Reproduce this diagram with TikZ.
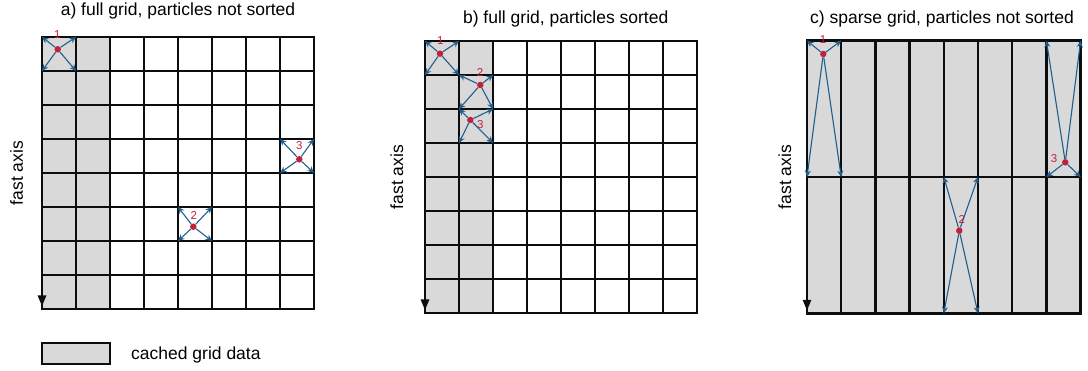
\documentclass[tikz,border=0pt]{standalone}
\usepackage{fontspec}
\setmainfont{Liberation Sans}
\usetikzlibrary{arrows.meta}
\definecolor{cachegray}{HTML}{D9D9D9}
\definecolor{arrblue}{HTML}{1F5F8F}
\definecolor{ptred}{HTML}{C3203A}
\begin{document}
\begin{tikzpicture}[x=1pt,y=-1pt,
  gridline/.style={line width=2.5pt, draw=black!95, line cap=rect},
  move/.style={draw=arrblue, line width=1.1pt, -{Stealth[length=6.5pt,width=6pt]}},
  dotnode/.style={circle, fill=ptred, inner sep=0pt, minimum size=6.5pt},
  plabel/.style={text=ptred, font=\fontsize{11.5}{13}\selectfont, inner sep=0pt},
  title/.style={font=\fontsize{17.5}{20}\selectfont, inner sep=0pt, anchor=base},
  axislabel/.style={font=\fontsize{17.5}{20}\selectfont, rotate=90, anchor=base, inner sep=0pt},
  axisarrow/.style={line width=2.5pt, draw=black!95, -{Triangle[length=11pt,width=8pt]}},
  legendbox/.style={draw=black!95, line width=2.2pt, fill=cachegray, minimum width=68pt, minimum height=20.7pt, inner sep=0pt},
  legendtext/.style={font=\fontsize{17.5}{20}\selectfont, inner sep=0pt, anchor=base west}]
\useasboundingbox (0,0) rectangle (1088,371);

% ---------- titles ----------
\node[title] (ta) at (178,15.5) {a) full grid, particles not sorted};
\node[title] (tb) at (565.7,24) {b) full grid, particles sorted};
\node[title] (tc) at (942,24) {c) sparse grid, particles not sorted};

% ---------- axis labels ----------
\node[axislabel] (fa) at (23,173) {fast axis};
\node[axislabel] (fb) at (403,177) {fast axis};
\node[axislabel] (fc) at (791,177) {fast axis};

% ---------- panel a ----------
\fill[cachegray] (42,37) rectangle (110,309);
\foreach \i in {0,...,8} \draw[gridline] (42+34*\i,37) -- (42+34*\i,309);
\foreach \j in {0,...,8} \draw[gridline] (42,37+34*\j) -- (314,37+34*\j);
\coordinate (atop) at (42,37);
\coordinate (abot) at (42,306.5);
\draw[axisarrow] (atop) -- (abot);

% ---------- panel b ----------
\fill[cachegray] (425,41) rectangle (493,313);
\foreach \i in {0,...,8} \draw[gridline] (425+34*\i,41) -- (425+34*\i,313);
\foreach \j in {0,...,8} \draw[gridline] (425,41+34*\j) -- (697,41+34*\j);
\coordinate (btop) at (425,41);
\coordinate (bbot) at (425,310.5);
\draw[axisarrow] (btop) -- (bbot);

% ---------- panel c ----------
\fill[cachegray] (807,40.7) rectangle (1080.6,313.3);
\foreach \i in {0,...,8} \draw[gridline] (807+34.2*\i,40.7) -- (807+34.2*\i,313.3);
\foreach \y in {40.7,177,313.3} \draw[gridline] (807,\y) -- (1080.6,\y);
\coordinate (ctop) at (807,40.7);
\coordinate (cbot) at (807,310.8);
\draw[axisarrow] (ctop) -- (cbot);

% ---------- particles ----------
\foreach \n/\dx/\dy/\xa/\ya/\xb/\yb/\lab/\lx/\ly in {
  a1/57.7/49.3/42/37/76/71/1/57.3/35,
  a2/193.3/226.7/178/207/212/241/2/193.7/215,
  a3/299.3/159.3/280/139/314/173/3/299.3/146,
  b1/440/53.7/425/41/459/75/1/440.3/41,
  b2/480.3/85/459/75/493/109/2/480/72.7,
  b3/470.3/120/459/109/493/143/3/480.3/124.3,
  c1/823.3/54/807/40.7/841.2/177/1/823/40,
  c2/959.3/230.7/943.8/177/978/313.3/2/961.7/219.3,
  c3/1065.3/162.3/1046.4/40.7/1080.6/177/3/1054/158.3}
{
  \node[dotnode] (\n) at (\dx,\dy) {};
  \coordinate (\n-nw) at (\xa,\ya);
  \coordinate (\n-ne) at (\xb,\ya);
  \coordinate (\n-sw) at (\xa,\yb);
  \coordinate (\n-se) at (\xb,\yb);
  \foreach \c in {nw,ne,sw,se} \draw[move] (\n) -- (\n-\c);
  \node[plabel] (\n-lab) at (\lx,\ly) {\lab};
}

% ---------- legend ----------
\node[legendbox] (leg) at (76,353.6) {};
\node[legendtext] (legt) at (131,360) {cached grid data};
\end{tikzpicture}
\end{document}
